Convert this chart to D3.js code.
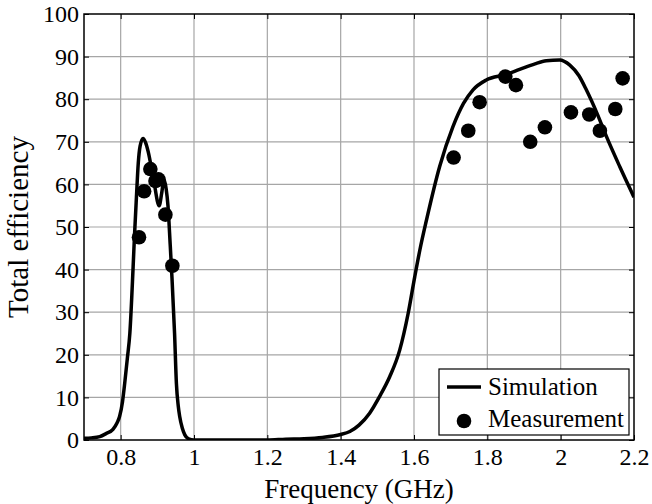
<!DOCTYPE html>
<html>
<head>
<meta charset="utf-8">
<script src="https://cdn.jsdelivr.net/npm/d3@7"></script>
<style>
  body { margin: 0; background: #fff; }
  svg { display: block; }
  text { font-family: "Liberation Serif", Tinos, "Times New Roman", Times, "DejaVu Serif", serif; fill: #000; }
</style>
</head>
<body>
<svg id="chart" width="652" height="504"></svg>
<script>
// simulated total efficiency (freq in GHz, efficiency in %)
var simFreq = [0.70,0.72,0.743,0.76,0.779,0.79,0.797,0.805,0.811,0.818,0.825,0.834,0.838,0.843,0.848,0.853,0.861,0.868,0.875,0.89,0.905,0.912,0.918,0.924,0.929,0.935,0.94,0.947,0.952,0.957,0.961,0.968,0.975,0.985,1.0,1.1,1.2,1.25,1.3,1.35,1.4,1.425,1.45,1.479,1.506,1.534,1.561,1.584,1.602,1.616,1.634,1.67,1.706,1.735,1.761,1.797,1.85,1.888,1.93,1.961,1.997,2.025,2.05,2.07,2.1,2.125,2.161,2.2];
var simEff  = [0.4,0.5,0.8,1.5,2.5,4,5.5,9,13.3,19,25,40.7,48.5,57,65,69,70.8,69.8,67.7,61,55,58,61.2,59,55,46,38,25,13.3,8,5.5,2.8,1.2,0.3,0,0,0,0.2,0.3,0.6,1.3,2,3.5,6.3,10.2,14.9,21.1,29.7,38.3,44.6,51.6,64.2,73.5,79,82.2,84.5,85.8,87,88.3,89,89.2,88,85.5,82.2,76.5,71.2,64.2,57];

// measured points
var measFreq = [0.85,0.864,0.881,0.895,0.903,0.922,0.941,1.708,1.748,1.779,1.849,1.878,1.917,1.957,2.028,2.078,2.107,2.149,2.169];
var measEff  = [47.6,58.4,63.6,60.8,61.2,52.9,40.9,66.3,72.6,79.3,85.3,83.3,70,73.4,76.9,76.4,72.6,77.7,84.9];

var xTicks = [0.8,1,1.2,1.4,1.6,1.8,2,2.2];
var xTickLabels = ["0.8","1","1.2","1.4","1.6","1.8","2","2.2"];
var yTicks = [0,10,20,30,40,50,60,70,80,90,100];

var margin = {left: 84, right: 18, top: 14, bottom: 64};
var W = 652, H = 504;
var svg = d3.select("#chart");

var x = d3.scaleLinear().domain([0.7, 2.2]).range([margin.left, W - margin.right]);
var y = d3.scaleLinear().domain([0, 100]).range([H - margin.bottom, margin.top]);

// grid
svg.append("g").selectAll("line").data(xTicks.slice(0, -1)).enter().append("line")
    .attr("x1", function(d){ return x(d); }).attr("x2", function(d){ return x(d); })
    .attr("y1", y(0)).attr("y2", y(100))
    .attr("stroke", "#a6a6a6").attr("stroke-width", 1.2);
svg.append("g").selectAll("line").data(yTicks.slice(1, -1)).enter().append("line")
    .attr("y1", function(d){ return y(d); }).attr("y2", function(d){ return y(d); })
    .attr("x1", x(0.7)).attr("x2", x(2.2))
    .attr("stroke", "#a6a6a6").attr("stroke-width", 1.2);

// axes with inward ticks
var tick = 5;
var xb = svg.append("g").attr("transform", "translate(0," + y(0) + ")")
    .call(d3.axisBottom(x).tickValues(xTicks).tickSizeInner(-tick).tickSizeOuter(0)
        .tickFormat(function(d, i){ return xTickLabels[i]; }).tickPadding(8));
var xt = svg.append("g").attr("transform", "translate(0," + y(100) + ")")
    .call(d3.axisTop(x).tickValues(xTicks).tickSizeInner(-tick).tickSizeOuter(0).tickFormat(""));
var yl = svg.append("g").attr("transform", "translate(" + x(0.7) + ",0)")
    .call(d3.axisLeft(y).tickValues(yTicks).tickSizeInner(-tick).tickSizeOuter(0).tickPadding(5));
var yr = svg.append("g").attr("transform", "translate(" + x(2.2) + ",0)")
    .call(d3.axisRight(y).tickValues(yTicks).tickSizeInner(-tick).tickSizeOuter(0).tickFormat(""));
[xb, xt, yl, yr].forEach(function(g){
    g.attr("font-family", null);
    g.select(".domain").remove();
    g.selectAll(".tick line").attr("stroke", "#000").attr("stroke-width", 1);
    g.selectAll("text").attr("font-size", 24).attr("fill", "#000");
});
xb.selectAll("text").attr("dy", "0.71em");

// clip
svg.append("clipPath").attr("id", "clip").append("rect")
    .attr("x", x(0.7)).attr("y", y(100)).attr("width", x(2.2) - x(0.7)).attr("height", y(0) - y(100));

var simData = simFreq.map(function(f, i){ return [f, simEff[i]]; });
var line = d3.line().x(function(d){ return x(d[0]); }).y(function(d){ return y(d[1]); }).curve(d3.curveMonotoneX);
svg.append("path").datum(simData).attr("clip-path", "url(#clip)")
    .attr("d", line).attr("fill", "none").attr("stroke", "#000").attr("stroke-width", 3.5)
    .attr("stroke-linejoin", "round");

svg.append("g").selectAll("circle").data(measFreq).enter().append("circle")
    .attr("cx", function(d){ return x(d); })
    .attr("cy", function(d, i){ return y(measEff[i]); })
    .attr("r", 7.3).attr("fill", "#000");

// frame
svg.append("rect").attr("x", x(0.7)).attr("y", y(100))
    .attr("width", x(2.2) - x(0.7)).attr("height", y(0) - y(100))
    .attr("fill", "none").attr("stroke", "#000").attr("stroke-width", 1.5);

// legend
var lg = svg.append("g").attr("transform", "translate(439,369)");
lg.append("rect").attr("width", 190).attr("height", 66).attr("fill", "#fff").attr("stroke", "#000").attr("stroke-width", 1.2);
lg.append("line").attr("x1", 8).attr("x2", 42).attr("y1", 18).attr("y2", 18).attr("stroke", "#000").attr("stroke-width", 3.5);
lg.append("text").attr("x", 49).attr("y", 26).attr("font-size", 25).text("Simulation");
lg.append("circle").attr("cx", 25).attr("cy", 52).attr("r", 7.3).attr("fill", "#000");
lg.append("text").attr("x", 49).attr("y", 58).attr("font-size", 25).text("Measurement");

// axis titles
svg.append("text").attr("x", (x(0.7) + x(2.2)) / 2).attr("y", 498)
    .attr("text-anchor", "middle").attr("font-size", 27).text("Frequency (GHz)");
svg.append("text").attr("transform", "translate(28," + ((y(0) + y(100)) / 2) + ") rotate(-90)")
    .attr("text-anchor", "middle").attr("font-size", 29).text("Total efficiency");
</script>
</body>
</html>
